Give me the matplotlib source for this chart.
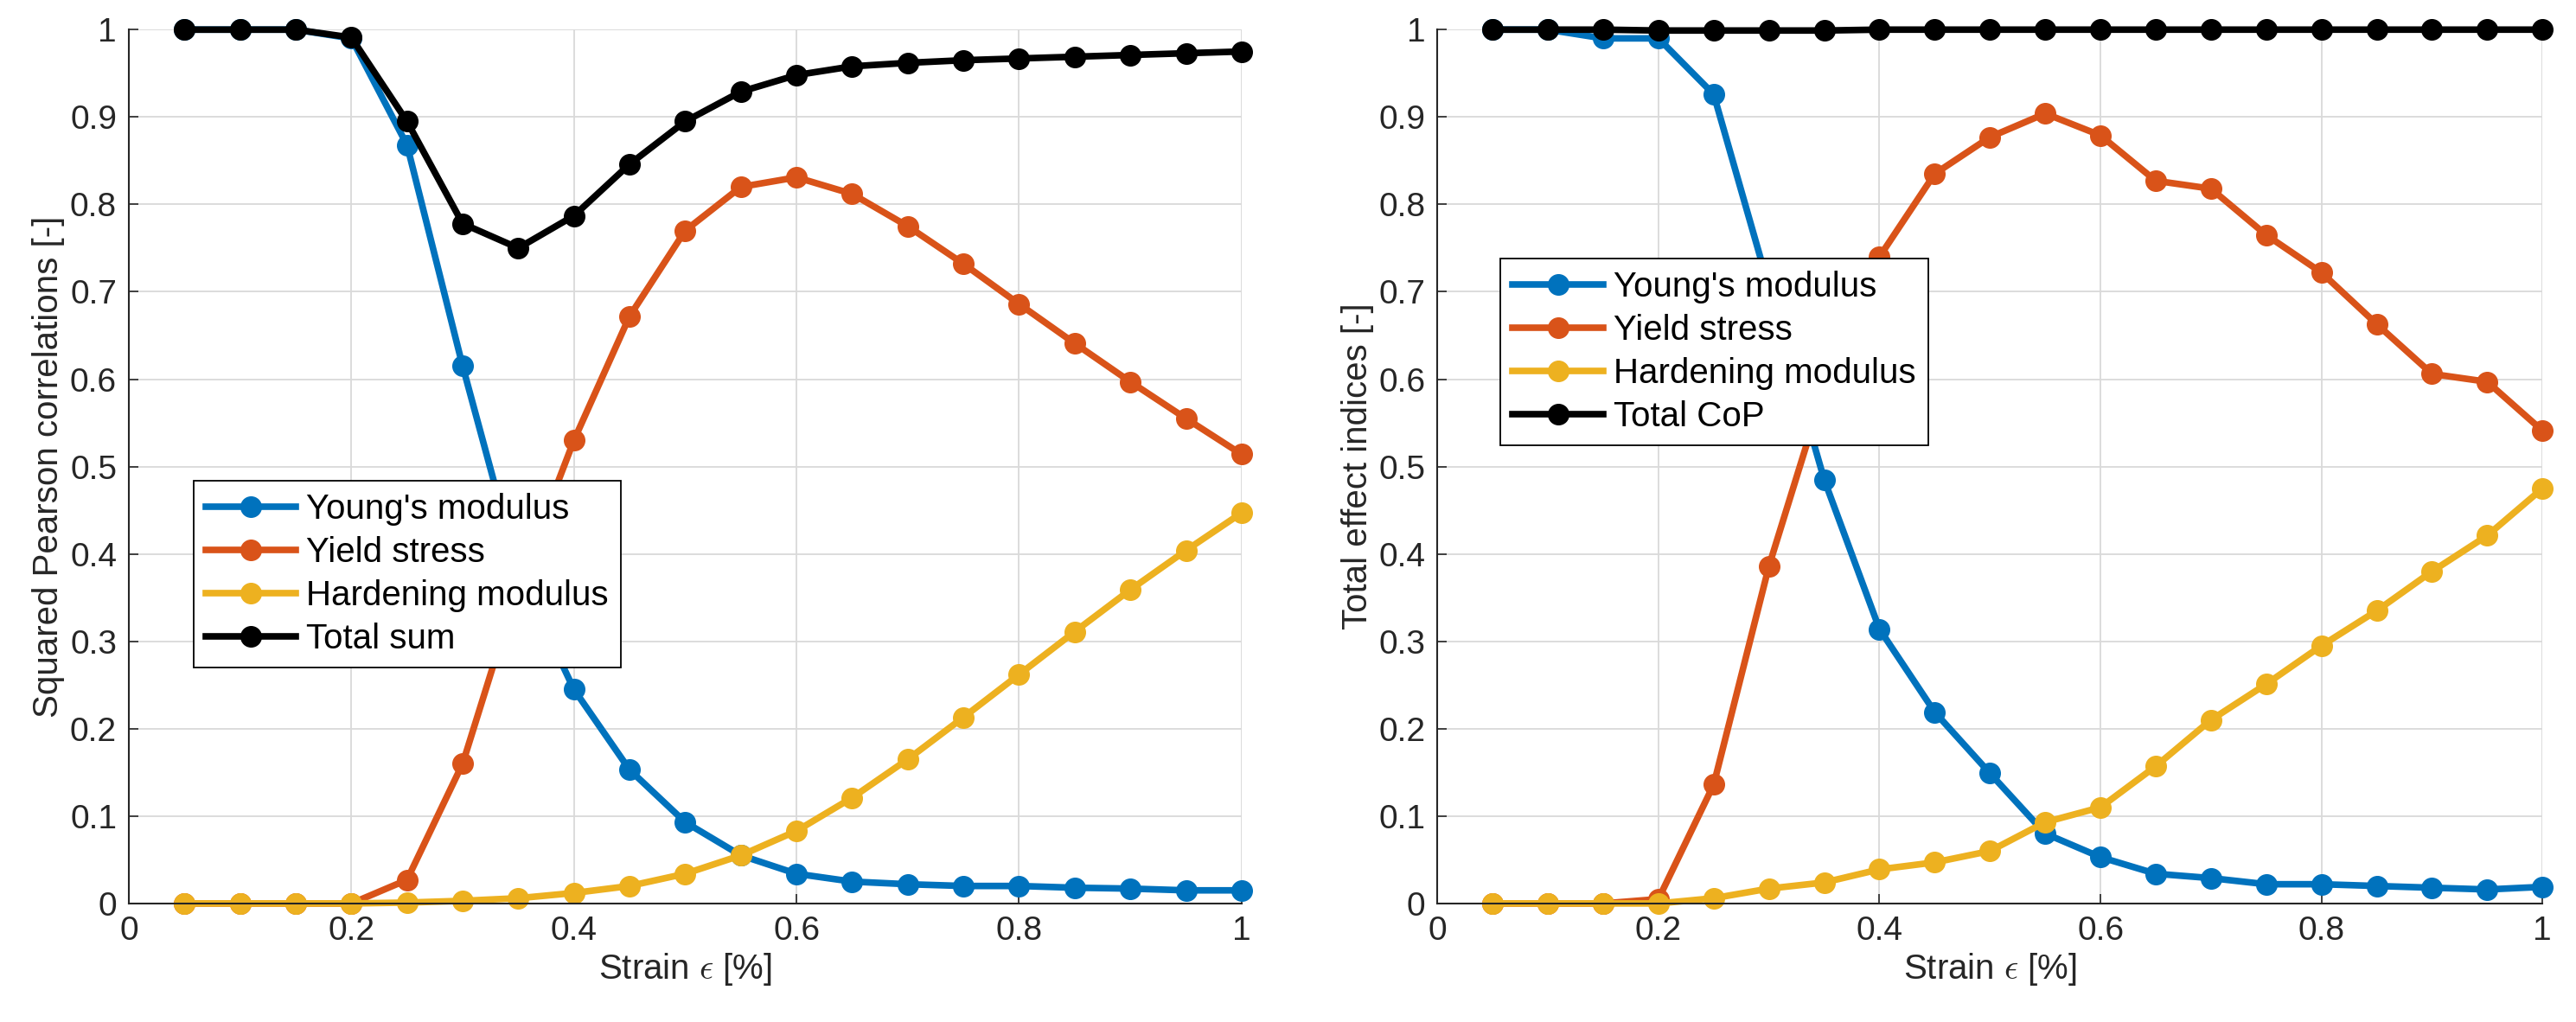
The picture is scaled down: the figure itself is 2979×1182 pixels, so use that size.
import numpy as np
import matplotlib
matplotlib.use('Agg')
import matplotlib.pyplot as plt

plt.rcParams['font.family'] = ['Liberation Sans', 'DejaVu Sans']
plt.rcParams['mathtext.fontset'] = 'cm'

# Strain values
strain = [0.05, 0.10, 0.15, 0.20, 0.25, 0.30, 0.35, 0.40, 0.45, 0.50,
          0.55, 0.60, 0.65, 0.70, 0.75, 0.80, 0.85, 0.90, 0.95, 1.00]

# Left panel: squared Pearson correlations
pearson_young = [1.0, 1.0, 1.0, 0.99, 0.868, 0.615, 0.38, 0.245, 0.153, 0.093,
                 0.055, 0.034, 0.025, 0.022, 0.020, 0.020, 0.018, 0.017, 0.015, 0.015]
pearson_yield = [0.0, 0.0, 0.0, 0.0, 0.027, 0.16, 0.364, 0.53, 0.672, 0.77,
                 0.82, 0.831, 0.812, 0.775, 0.732, 0.686, 0.641, 0.597, 0.555, 0.514]
pearson_hard = [0.0, 0.0, 0.0, 0.0, 0.001, 0.003, 0.006, 0.012, 0.020, 0.034,
                0.055, 0.083, 0.121, 0.165, 0.213, 0.262, 0.311, 0.359, 0.404, 0.447]
pearson_total = [1.0, 1.0, 1.0, 0.991, 0.895, 0.778, 0.75, 0.787, 0.846, 0.895,
                 0.929, 0.948, 0.958, 0.962, 0.965, 0.967, 0.969, 0.971, 0.973, 0.975]

# Right panel: total effect indices
total_young = [1.0, 1.0, 0.99, 0.99, 0.926, 0.705, 0.485, 0.314, 0.219, 0.149,
               0.080, 0.053, 0.034, 0.029, 0.022, 0.022, 0.020, 0.018, 0.016, 0.019]
total_yield = [0.0, 0.0, 0.0, 0.005, 0.136, 0.386, 0.59, 0.74, 0.835, 0.877,
               0.904, 0.879, 0.827, 0.818, 0.765, 0.722, 0.663, 0.606, 0.597, 0.541]
total_hard = [0.0, 0.0, 0.0, 0.0, 0.006, 0.017, 0.024, 0.039, 0.047, 0.060,
              0.093, 0.110, 0.157, 0.210, 0.251, 0.295, 0.335, 0.380, 0.421, 0.475]
total_cop = [1.0, 1.0, 1.0, 0.999, 0.999, 0.999, 0.999, 1.0, 1.0, 1.0,
             1.0, 1.0, 1.0, 1.0, 1.0, 1.0, 1.0, 1.0, 1.0, 1.0]

colors = ['#0072BD', '#D95319', '#EDB120', '#000000']
xticks = [0, 0.2, 0.4, 0.6, 0.8, 1]
xticklabels = ['0', '0.2', '0.4', '0.6', '0.8', '1']
yticks = [0, 0.1, 0.2, 0.3, 0.4, 0.5, 0.6, 0.7, 0.8, 0.9, 1]
yticklabels = ['0', '0.1', '0.2', '0.3', '0.4', '0.5', '0.6', '0.7', '0.8', '0.9', '1']

fig = plt.figure(figsize=(29.79, 11.82), dpi=100)
ax1 = fig.add_axes([0.050, 0.116, 0.432, 0.855])
ax2 = fig.add_axes([0.558, 0.116, 0.429, 0.855])


def style_axes(ax, ylabel):
    ax.set_xlim(0, 1)
    ax.set_ylim(0, 1)
    ax.set_xticks(xticks)
    ax.set_xticklabels(xticklabels)
    ax.set_yticks(yticks)
    ax.set_yticklabels(yticklabels)
    ax.grid(True, color='#d9d9d9', linewidth=1.3)
    ax.set_axisbelow(True)
    for s in ['top', 'right']:
        ax.spines[s].set_visible(False)
    for s in ['left', 'bottom']:
        ax.spines[s].set_linewidth(1.5)
        ax.spines[s].set_color('#262626')
    ax.tick_params(direction='in', length=8, width=1.2, labelsize=28,
                   colors='#262626', pad=10)
    ax.set_xlabel(r'Strain $\epsilon$ [%]', fontsize=29, color='#262626', labelpad=4)
    ax.set_ylabel(ylabel, fontsize=29, color='#262626', labelpad=4)


def draw(ax, series, labels, legend_box):
    for vals, c, lab in zip(series, colors, labels):
        ax.plot(strain, vals, '-o', color=c, lw=5.5, ms=17, label=lab, clip_on=False)
    leg = ax.legend(loc='lower left', bbox_to_anchor=legend_box, fontsize=29,
                    fancybox=False, edgecolor='black', framealpha=1,
                    handlelength=2.6, borderpad=0.35, labelspacing=0.3,
                    handletextpad=0.3, borderaxespad=0)
    leg.get_frame().set_linewidth(1.3)


style_axes(ax1, 'Squared Pearson correlations [-]')
draw(ax1, [pearson_young, pearson_yield, pearson_hard, pearson_total],
     ["Young's modulus", 'Yield stress', 'Hardening modulus', 'Total sum'],
     (0.058, 0.27))

style_axes(ax2, 'Total effect indices [-]')
draw(ax2, [total_young, total_yield, total_hard, total_cop],
     ["Young's modulus", 'Yield stress', 'Hardening modulus', 'Total CoP'],
     (0.057, 0.524))

fig.savefig('out.png', dpi=100)
